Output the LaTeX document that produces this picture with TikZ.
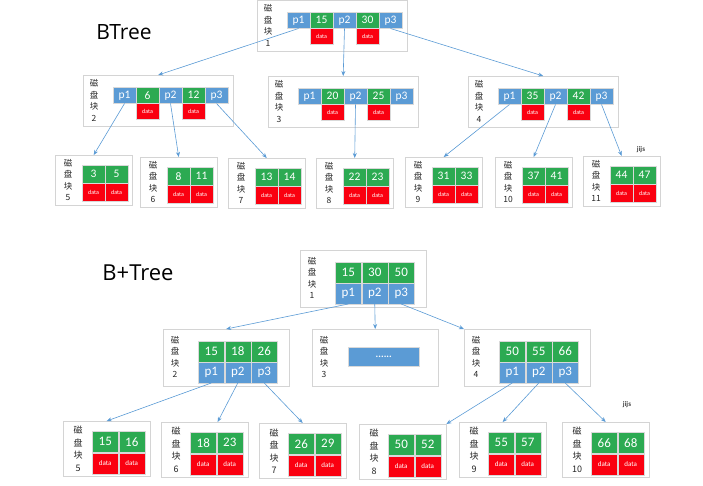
\documentclass[tikz,border=0pt]{standalone}
\usepackage{fontspec}
\setmainfont{Carlito}
\newfontfamily\cjk{Noto Sans CJK SC}
\newfontfamily\titlefont{Open Sans}
\usetikzlibrary{arrows.meta,positioning,shadows}
\definecolor{ptrblue}{RGB}{91,155,213}
\definecolor{keygreen}{RGB}{44,170,82}
\definecolor{datred}{RGB}{250,0,16}
\definecolor{boxgray}{RGB}{212,212,212}
\tikzset{
  block/.style={draw=boxgray, fill=white, anchor=north west, inner sep=0pt,
    drop shadow={opacity=0.12, shadow xshift=1pt, shadow yshift=-1pt}},
  disk/.style={align=center, inner sep=0pt, text=black!85,
    font=\cjk\fontsize{8.5}{11.5}\selectfont},
  cell/.style={inner sep=0pt, draw=white!70!gray, line width=0.5pt, text=white},
  ptr/.style={cell, fill=ptrblue, minimum width=22.5pt, minimum height=16pt, font=\fontsize{11.5}{11.5}\selectfont},
  key/.style={cell, fill=keygreen, minimum width=22.5pt, minimum height=16pt, font=\fontsize{11.5}{11.5}\selectfont},
  dat/.style={cell, fill=datred, minimum width=22.5pt, minimum height=16pt, font=\fontsize{6}{6}\selectfont},
  bigcell/.style={minimum width=26pt, minimum height=20.5pt, font=\fontsize{13}{13}\selectfont},
  link/.style={draw=ptrblue, line width=0.6pt, -{Stealth[length=5pt,width=4pt]}},
  title/.style={font=\titlefont\fontsize{21}{21}\selectfont},
  note/.style={font=\bfseries\fontsize{7}{7}\selectfont, text=black!75}
}
\begin{document}
\begin{tikzpicture}[x=1pt,y=-1pt]
    \useasboundingbox (0,0) rectangle (703,486);

    \node[title] (btree) at (124,32) {BTree};
    \node[title, font=\titlefont\fontsize{22}{22}\selectfont] (bptree) at (138,273) {B+Tree};
    \node[note] (jijs1) at (641,150) {jijs};
    \node[note] (jijs2) at (627,405) {jijs};

    \foreach \n/\x/\y/\ka/\kb in {1/257/0/15/30, 2/83/75/6/12, 3/268/76/20/25, 4/468/76/35/42} {
        \node[block, minimum width=150pt, minimum height=51pt] (bt\n) at (\x,\y) {};
        \node[disk] at (\x+11,\y+25.5) {磁\\盘\\块\\\n};
        \node[ptr, anchor=north west] (bt\n-p1) at (\x+30,\y+12) {p1};
        \node[key, right=0pt of bt\n-p1] (bt\n-k1) {\ka};
        \node[ptr, right=0pt of bt\n-k1] (bt\n-p2) {p2};
        \node[key, right=0pt of bt\n-p2] (bt\n-k2) {\kb};
        \node[ptr, right=0pt of bt\n-k2] (bt\n-p3) {p3};
        \node[dat, below=0pt of bt\n-k1] (bt\n-d1) {data};
        \node[dat, below=0pt of bt\n-k2] (bt\n-d2) {data};
    }

    \foreach \n/\x/\y/\ka/\kb in {5/55/155/3/5, 6/140/157/8/11, 7/228/158/13/14, 8/316/158/22/23,
                                 9/405/157/31/33, 10/495/157/37/41, 11/583/156/44/47} {
        \node[block, minimum width=77pt, minimum height=50pt] (bt\n) at (\x,\y) {};
        \node[disk] at (\x+13,\y+25) {磁\\盘\\块\\\n};
        \node[key, minimum height=18pt, anchor=north west] (bt\n-k1) at (\x+27,\y+10) {\ka};
        \node[key, minimum height=18pt, right=0pt of bt\n-k1] (bt\n-k2) {\kb};
        \node[dat, minimum height=18pt, below=0pt of bt\n-k1] (bt\n-d1) {data};
        \node[dat, minimum height=18pt, below=0pt of bt\n-k2] (bt\n-d2) {data};
    }

    \draw[link] (bt1-p1.south) -- (bt2.north);
    \draw[link] (bt1-p2.south) -- (bt3.north);
    \draw[link] (bt1-p3.south) -- (bt4.north);
    \draw[link] (bt2-p1.south) -- (bt5.north);
    \draw[link] (bt2-p2.south) -- (bt6.north);
    \draw[link] (bt2-p3.south) -- (bt7.north);
    \draw[link] (bt3-p2.south) -- (bt8.north);
    \draw[link] (bt4-p1.south) -- (bt9.north);
    \draw[link] (bt4-p2.south) -- (bt10.north);
    \draw[link] (bt4-p3.south) -- (bt11.north);

    \foreach \n/\x/\y/\ka/\kb/\kc in {1/300/250/15/30/50, 2/163/329/15/18/26, 4/464/329/50/55/66} {
        \node[block, minimum width=126pt, minimum height=57pt] (bp\n) at (\x,\y) {};
        \node[disk] at (\x+12,\y+28) {磁\\盘\\块\\\n};
        \node[key, bigcell, anchor=north west] (bp\n-k1) at (\x+35,\y+12) {\ka};
        \node[key, bigcell, right=0pt of bp\n-k1] (bp\n-k2) {\kb};
        \node[key, bigcell, right=0pt of bp\n-k2] (bp\n-k3) {\kc};
        \node[ptr, bigcell, below=0pt of bp\n-k1] (bp\n-p1) {p1};
        \node[ptr, bigcell, below=0pt of bp\n-k2] (bp\n-p2) {p2};
        \node[ptr, bigcell, below=0pt of bp\n-k3] (bp\n-p3) {p3};
    }
    \node[block, minimum width=126pt, minimum height=57pt] (bp3) at (312,329) {};
    \node[disk] at (324,357) {磁\\盘\\块\\3};
    \node[ptr, minimum width=71pt, minimum height=19pt, anchor=north west, font=\bfseries\fontsize{10}{10}\selectfont] (bp3-dots) at (348,347) {......};

    \foreach \n/\x/\y/\ka/\kb in {5/63/421/15/16, 6/161/422/18/23, 7/259/423/26/29,
                                 8/359/424/50/52, 9/459/422/55/57, 10/562/422/66/68} {
        \node[block, minimum width=87pt, minimum height=55pt] (bp\n) at (\x,\y) {};
        \node[disk, font=\cjk\fontsize{9}{12.5}\selectfont] at (\x+15,\y+28) {磁\\盘\\块\\\n};
        \node[key, bigcell, minimum height=21pt, anchor=north west] (bp\n-k1) at (\x+29,\y+10) {\ka};
        \node[key, bigcell, minimum height=21pt, right=0pt of bp\n-k1] (bp\n-k2) {\kb};
        \node[dat, bigcell, minimum height=21pt, font=\fontsize{7}{7}\selectfont, below=0pt of bp\n-k1] (bp\n-d1) {data};
        \node[dat, bigcell, minimum height=21pt, font=\fontsize{7}{7}\selectfont, below=0pt of bp\n-k2] (bp\n-d2) {data};
    }

    \draw[link] (bp1-p1.south) -- (bp2.north);
    \draw[link] (bp1-p2.south) -- (bp3.north);
    \draw[link] (bp1-p3.south) -- (bp4.north west);
    \draw[link] (bp2-p1.south) -- (bp5.north);
    \draw[link] (bp2-p2.south) -- (bp6.65);
    \draw[link] (bp2-p3.south) -- (bp7.north);
    \draw[link] (bp4-p1.south) -- (bp8.north east);
    \draw[link] (bp4-p2.south) -- (bp9.north);
    \draw[link] (bp4-p3.south) -- (bp10.north);

\end{tikzpicture}
\end{document}
